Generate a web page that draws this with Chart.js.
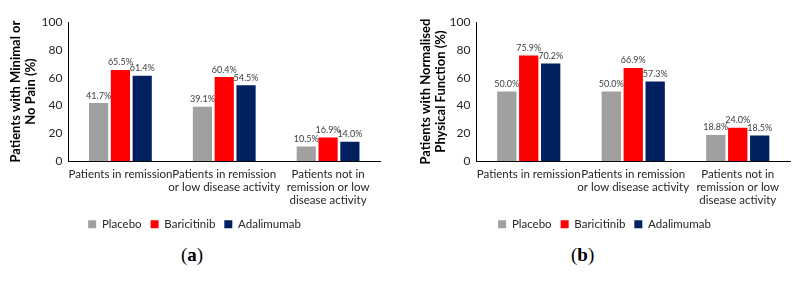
<!DOCTYPE html>
<html>
<head>
<meta charset="utf-8">
<script src="https://cdn.jsdelivr.net/npm/chart.js@4"></script>
<style>
  body { margin: 0; background: #fff; width: 799px; height: 283px; position: relative; overflow: hidden; }
  .box { position: absolute; top: 0; height: 242px; }
  .cap { position: absolute; top: 244px; font-family: "Liberation Serif", serif; font-size: 19px; color: #000; }
</style>
</head>
<body>
<div class="box" style="left:0;width:400px"><canvas id="chartA"></canvas></div>
<div class="box" style="left:400px;width:399px"><canvas id="chartB"></canvas></div>
<div class="cap" style="left:181px">(<b>a</b>)</div>
<div class="cap" style="left:571px">(<b>b</b>)</div>
<script>
const categories = [
    "Patients in remission",
    ["Patients in remission", "or low disease activity"],
    ["Patients not in", "remission or low", "disease activity"]
];
const seriesNames = ["Placebo", "Baricitinib", "Adalimumab"];
const seriesColors = ["#a0a0a0", "#ff0000", "#002060"];

// panel (a): minimal or no pain
const painPlacebo = [41.7, 39.1, 10.5];
const painBaricitinib = [65.5, 60.4, 16.9];
const painAdalimumab = [61.4, 54.5, 14.0];

// panel (b): normalised physical function
const funcPlacebo = [50.0, 50.0, 18.8];
const funcBaricitinib = [75.9, 66.9, 24.0];
const funcAdalimumab = [70.2, 57.3, 18.5];

const yTicks = [0, 20, 40, 60, 80, 100];

const fontFamily = "Lato, 'Open Sans', sans-serif";

// draws the percentage above every bar
const barLabels = {
    id: "barLabels",
    afterDatasetsDraw(chart) {
        const ctx = chart.ctx;
        ctx.save();
        ctx.font = "9px " + fontFamily;
        ctx.fillStyle = "#404040";
        ctx.textAlign = "center";
        ctx.textBaseline = "bottom";
        chart.data.datasets.forEach((ds, i) => {
            chart.getDatasetMeta(i).data.forEach((bar, j) => {
                ctx.fillText(ds.data[j].toFixed(1) + "%", bar.x, bar.y - 3);
            });
        });
        ctx.restore();
    }
};

function createChart(canvasId, values, yTitle, padding, titleGap) {
    new Chart(document.getElementById(canvasId), {
        type: "bar",
        data: {
            labels: categories,
            datasets: values.map((v, i) => ({
                label: seriesNames[i],
                data: v,
                backgroundColor: seriesColors[i],
                categoryPercentage: 0.63,
                barPercentage: 0.88
            }))
        },
        options: {
            responsive: true,
            maintainAspectRatio: false,
            animation: false,
            layout: { padding: padding },
            plugins: {
                legend: {
                    position: "bottom",
                    labels: {
                        boxWidth: 8,
                        boxHeight: 8,
                        padding: 9,
                        color: "#262626",
                        font: { family: fontFamily, size: 11.5 }
                    }
                },
                tooltip: { enabled: false }
            },
            scales: {
                x: {
                    // let the labels run into the legend's empty padding
                    afterFit: scale => { scale.height -= 4; },
                    grid: { display: false, drawTicks: false },
                    border: { color: "#000", width: 1 },
                    ticks: {
                        maxRotation: 0,
                        autoSkip: false,
                        padding: 6,
                        color: "#262626",
                        font: { family: fontFamily, size: 11.5, lineHeight: 1.17 }
                    }
                },
                y: {
                    min: 0,
                    max: 100,
                    afterBuildTicks: axis => { axis.ticks = yTicks.map(v => ({ value: v })); },
                    grid: { display: false, drawTicks: true, tickLength: 4, tickColor: "#000" },
                    border: { color: "#000", width: 1 },
                    ticks: {
                        padding: 2,
                        color: "#262626",
                        font: { family: fontFamily, size: 12 }
                    },
                    title: {
                        display: true,
                        text: yTitle,
                        color: "#000",
                        padding: { top: 0, bottom: titleGap },
                        font: { family: fontFamily, size: 13, weight: "bold", lineHeight: 1.1 }
                    }
                }
            }
        },
        plugins: [barLabels]
    });
}

createChart("chartA", [painPlacebo, painBaricitinib, painAdalimumab],
    ["Patients with Minimal or", "No Pain (%)"], { left: 9, right: 20, top: 22, bottom: 2 }, 2);
createChart("chartB", [funcPlacebo, funcBaricitinib, funcAdalimumab],
    ["Patients with Normalised", "Physical Function (%)"], { left: 19, right: 9, top: 22, bottom: 2 }, 0);
</script>
</body>
</html>
